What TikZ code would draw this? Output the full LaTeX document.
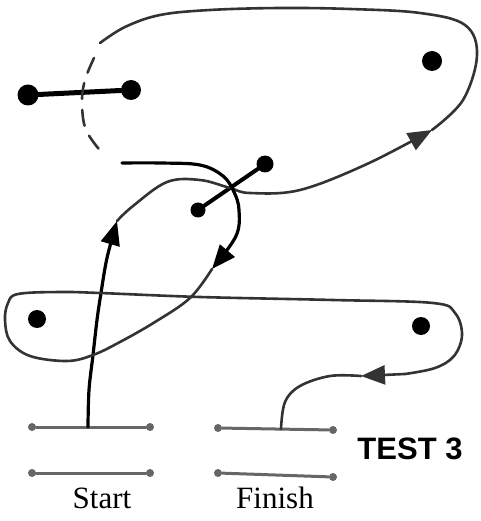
\documentclass[tikz,border=0pt]{standalone}
\usepackage{fontspec}
\newfontfamily\labelfont{Liberation Serif}
\newfontfamily\titlefont{Liberation Sans}
\usetikzlibrary{arrows.meta}

\begin{document}
\begin{tikzpicture}
			[x=1pt,y=-1pt,line cap=round,line join=round,
			%Styles
			loop line/.style={black!80,line width=2.6pt},
			heavy line/.style={black,line width=3.2pt},
			gap line/.style={black!80,line width=2.6pt,dash pattern=on 16pt off 11pt},
			bar/.style={black!60,line width=3pt},
			dot/.style={circle,fill=black,inner sep=0pt,minimum size=18pt},
			end dot/.style={circle,fill=black!60,inner sep=0pt,minimum size=8pt},
			tip/.style={-{Triangle[length=24pt,width=19pt]}}
			]
			
			\useasboundingbox (0,0) rectangle (480,521);
			
			%The graphic
			
			% bars
			\node[end dot] (sa) at (32,427) {};
			\node[end dot] (sb) at (150,427) {};
			\node[end dot] (sc) at (32,473) {};
			\node[end dot] (sd) at (150,473) {};
			\node[end dot] (fa) at (218,428) {};
			\node[end dot] (fb) at (333,430) {};
			\node[end dot] (fc) at (218,473) {};
			\node[end dot] (fd) at (333,477) {};
			\draw[bar] (sa) -- (sb);
			\draw[bar] (sc) -- (sd);
			\draw[bar] (fa) -- (fb);
			\draw[bar] (fc) -- (fd);
			\coordinate (s) at (88,427);
			\coordinate (f) at (281,429);
			
			% dots
			\node[dot,minimum width=18pt,minimum height=21pt] (p1) at (28,95) {};
			\node[dot,minimum width=18pt,minimum height=20pt] (p2) at (131,90) {};
			\draw[black,line width=5pt] (p1) -- (p2);
			\node[dot,minimum width=15pt,minimum height=17pt] (q1) at (265,164) {};
			\node[dot,minimum size=15pt] (q2) at (198,210) {};
			\draw[black,line width=4pt] (q1) -- (q2);
			\node[dot,minimum width=17pt,minimum height=20pt] (r) at (432,61) {};
			\node[dot] (b1) at (37,319) {};
			\node[dot] (b2) at (421,326) {};
			
			% the route
			\coordinate (t1) at (117,221);
			\coordinate (t2) at (432,130);
			\coordinate (t3) at (212,269);
			\coordinate (t4) at (361,376);
			\draw[heavy line,tip] plot[smooth,tension=0.6] coordinates
				{(s) (89,390) (93,355) (97,320) (101,293) (107,258) (t1)};
			\draw[loop line,tip] plot[smooth,tension=0.6] coordinates
				{(t1) (133,206) (167,182) (200,180) (230,188) (250,193) (300,190) (367,164) (t2)};
			\draw[loop line] plot[smooth,tension=0.6] coordinates
				{(t2) (463,100) (477,55) (465,25) (420,13) (350,9) (280,8) (210,10) (160,15) (125,27) (100,43)};
			\draw[gap line] plot[smooth,tension=0.6] coordinates
				{(94,58) (85,80) (82,102) (86,130) (103,154)};
			\draw[heavy line,tip] plot[smooth,tension=0.6] coordinates
				{(122,163) (160,163) (200,165) (223,176) (234,192) (239,210) (236,236) (t3)};
			\draw[loop line] plot[smooth,tension=0.6] coordinates
				{(t3) (190,298) (155,322) (120,342) (93,355) (67,361) (30,356) (10,341) (5,320) (8,303) (18,294) (60,292) (100,293) (200,297) (333,300) (433,303) (455,313) (462,335) (454,356) (435,368) (405,374)};
			\draw[loop line,tip] (405,374) -- (t4);
			\draw[loop line] plot[smooth,tension=0.6] coordinates
				{(t4) (330,376) (300,386) (285,402) (f)};
			
			% labels
			\node (start) at (102,498) {\labelfont\fontsize{31}{34}\selectfont Start};
			\node (finish) at (275,498) {\labelfont\fontsize{31}{34}\selectfont Finish};
			\node (test) at (410,449) {\titlefont\bfseries\fontsize{31}{34}\selectfont TEST 3};
		\end{tikzpicture}
\end{document}
